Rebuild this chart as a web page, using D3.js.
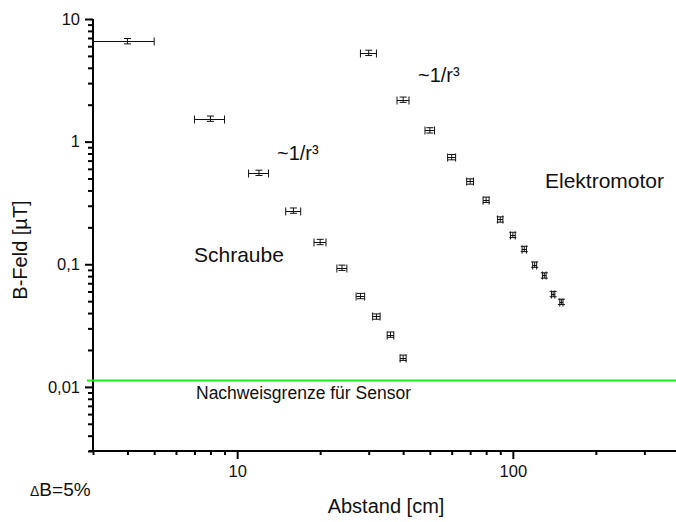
<!DOCTYPE html>
<html>
<head>
<meta charset="utf-8">
<script src="https://cdn.jsdelivr.net/npm/d3@7"></script>
<style>
  html, body { margin: 0; padding: 0; background: #fff; overflow: hidden; }
  svg { display: block; font-family: "Liberation Sans", Arial, sans-serif; }
</style>
</head>
<body>
<svg id="chart" width="676" height="522"></svg>
<script>
// ---- data ----
const schraubeX = [4, 8, 12, 16, 20, 24, 28, 32, 36, 40];
const schraubeY = [6.6, 1.54, 0.557, 0.274, 0.152, 0.0937, 0.0551, 0.0375, 0.0267, 0.0173];
const schraubeXErr = 1;
const motorX = [30, 40, 50, 60, 70, 80, 90, 100, 110, 120, 130, 140, 150];
const motorY = [5.3, 2.2, 1.237, 0.748, 0.4735, 0.336, 0.232, 0.1736, 0.1334, 0.0994, 0.0811, 0.0572, 0.0494];
const motorXErr = 2;
const relYErr = 0.05;
const limitValue = 0.01125;
const yTickValues = [0.01, 0.1, 1, 10];
const yTickLabels = ["0,01", "0,1", "1", "10"];
const xTickValues = [10, 100];
const xTickLabels = ["10", "100"];

const svg = d3.select("#chart");
const x = d3.scaleLog().domain([3, 400]).range([93, 93 + 275.7 * Math.log10(400 / 3)]);
const y = d3.scaleLog().domain([0.003, 10]).range([451, 19]);

// minor ticks
const xMinor = x.ticks(20).filter(v => !xTickValues.includes(v) && v >= 3 && v < 400);
const yMinor = y.ticks(40).filter(v => !yTickValues.some(t => Math.abs(t - v) / t < 1e-9));

// x axis
const gx = svg.append("g").attr("transform", "translate(0,451)");
gx.call(d3.axisBottom(x).tickValues(xMinor).tickSize(4).tickFormat(""));
gx.append("g").call(d3.axisBottom(x).tickValues(xTickValues).tickSize(8).tickPadding(6)
  .tickFormat((d, i) => xTickLabels[i]));
gx.selectAll(".domain").attr("stroke", "#000").attr("stroke-width", 2).attr("d", "M89,0H676");
gx.selectAll("line").attr("stroke", "#000").attr("stroke-width", 2);
gx.selectAll("text").attr("font-size", 16.5).attr("fill", "#111").attr("font-family", "Liberation Sans, Arial, sans-serif");

// y axis
const gy = svg.append("g").attr("transform", "translate(93,0)");
gy.call(d3.axisLeft(y).tickValues(yMinor).tickSize(5).tickFormat(""));
gy.append("g").call(d3.axisLeft(y).tickValues(yTickValues).tickSize(8).tickPadding(5)
  .tickFormat((d, i) => yTickLabels[i]));
gy.selectAll(".domain").attr("stroke", "#000").attr("stroke-width", 2).attr("d", "M0,19V452");
gy.selectAll("line").attr("stroke", "#000").attr("stroke-width", 2);
gy.selectAll("text").attr("font-size", 16.5).attr("fill", "#111").attr("font-family", "Liberation Sans, Arial, sans-serif");

// detection limit line
svg.append("line")
  .attr("x1", 87).attr("x2", 676)
  .attr("y1", y(limitValue)).attr("y2", y(limitValue))
  .attr("stroke", "#1aee1a").attr("stroke-width", 2);

// error bars
function drawSeries(xs, ys, xErr) {
  const g = svg.append("g").attr("stroke", "#111").attr("stroke-width", 1).attr("fill", "none");
  xs.forEach((xv, i) => {
    const yv = ys[i];
    const cx = x(xv), cy = Math.round(y(yv)) + 0.5;
    const x0 = x(xv - xErr), x1 = x(xv + xErr);
    const y0 = y(yv * (1 - relYErr)), y1 = y(yv * (1 + relYErr));
    g.append("line").attr("x1", x0).attr("x2", x1).attr("y1", cy).attr("y2", cy);
    g.append("line").attr("x1", x0).attr("x2", x0).attr("y1", cy - 4).attr("y2", cy + 4);
    g.append("line").attr("x1", x1).attr("x2", x1).attr("y1", cy - 4).attr("y2", cy + 4);
    g.append("line").attr("x1", cx).attr("x2", cx).attr("y1", y0).attr("y2", y1);
    g.append("line").attr("x1", cx - 3.5).attr("x2", cx + 3.5).attr("y1", y0).attr("y2", y0);
    g.append("line").attr("x1", cx - 3.5).attr("x2", cx + 3.5).attr("y1", y1).attr("y2", y1);
  });
}
drawSeries(schraubeX, schraubeY, schraubeXErr);
drawSeries(motorX, motorY, motorXErr);

// annotations
const ann = (t, px, py, size, anchor) => svg.append("text")
  .attr("x", px).attr("y", py).attr("font-size", size).attr("fill", "#111")
  .attr("text-anchor", anchor || "start").text(t);
ann("~1/r³", 277, 160, 20);
ann("~1/r³", 418, 82, 20);
ann("Schraube", 194, 262, 21);
ann("Elektromotor", 545, 188, 21);
ann("Nachweisgrenze für Sensor", 196, 399, 17.5);
const dB = svg.append("text").attr("x", 30).attr("y", 496).attr("font-size", 19).attr("fill", "#111");
dB.append("tspan").attr("font-size", 14).text("Δ");
dB.append("tspan").text("B=5%");
ann("Abstand [cm]", 386, 513, 20, "middle");
svg.append("text")
  .attr("transform", "translate(27,250) rotate(-90)")
  .attr("text-anchor", "middle").attr("font-size", 20).attr("fill", "#111")
  .text("B-Feld [µT]");
</script>
</body>
</html>
